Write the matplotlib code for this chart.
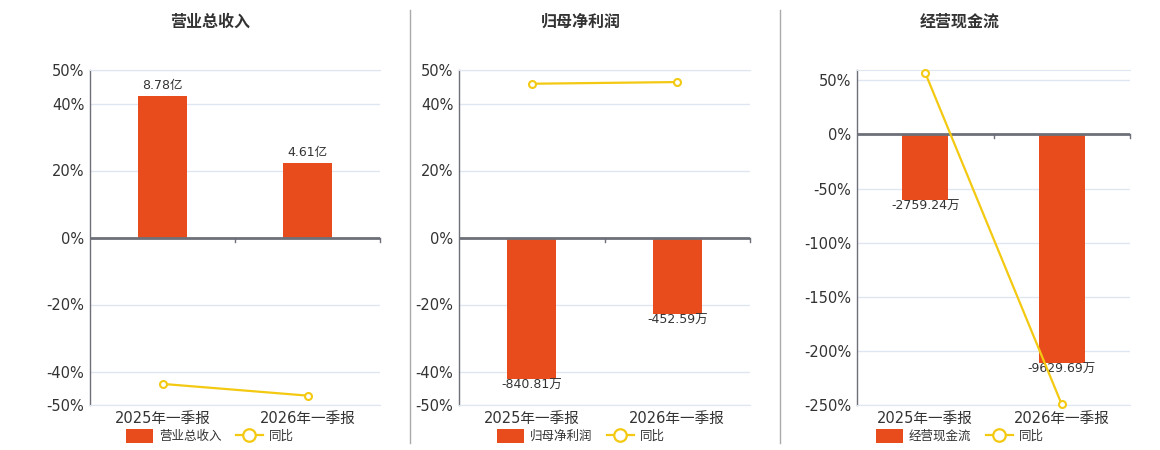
import matplotlib
matplotlib.use("Agg")
import matplotlib.pyplot as plt
from matplotlib.lines import Line2D
from matplotlib.patches import Patch
import matplotlib.transforms as mtransforms

plt.rcParams['font.family'] = ['DejaVu Sans', 'Noto Sans CJK SC']

# ---- data ----
categories = ["2025年一季报", "2026年一季报"]

titles = ["营业总收入", "归母净利润", "经营现金流"]

revenue_values = [8.78, 4.61]          # 亿
revenue_labels = ["8.78亿", "4.61亿"]
revenue_yoy = [-43.7, -47.2]           # %

profit_values = [-840.81, -452.59]     # 万
profit_labels = ["-840.81万", "-452.59万"]
profit_yoy = [45.9, 46.4]

cash_values = [-2759.24, -9629.69]     # 万
cash_labels = ["-2759.24万", "-9629.69万"]
cash_yoy = [56.8, -249.5]

yticks_list = [
    [-50, -40, -20, 0, 20, 40, 50],
    [-50, -40, -20, 0, 20, 40, 50],
    [-250, -200, -150, -100, -50, 0, 50],
]
ylims = [(-50, 50), (-50, 50), (-250, 59.5)]

# ---- style ----
BAR_C = "#E84C1D"
LINE_C = "#F3C912"
GRID_C = "#E0E6F1"
AXIS_C = "#6E7079"
TXT_C = "#333333"
W, H = 1160, 450

fig = plt.figure(figsize=(W / 100, H / 100), dpi=100)

panels = [
    (revenue_values, revenue_labels, revenue_yoy),
    (profit_values, profit_labels, profit_yoy),
    (cash_values, cash_labels, cash_yoy),
]
ax_px = [(90, 290), (459, 291), (857, 273)]
centers = [210, 581, 960]
BAR_FRAC = 0.845

for i, ((vals, labs, yoy), (lx, wx)) in enumerate(zip(panels, ax_px)):
    ax = fig.add_axes([lx / W, 45 / H, wx / W, 335 / H])
    ylo, yhi = ylims[i]
    ax.set_ylim(ylo, yhi)
    ax.set_xlim(-0.5, len(categories) - 0.5)
    ax.set_yticks(yticks_list[i])
    ax.set_yticklabels([f"{t}%" for t in yticks_list[i]])
    ax.tick_params(axis='y', length=0, labelsize=10.5, labelcolor=TXT_C, pad=4)
    ax.set_xticks(range(len(categories)))
    ax.set_xticklabels(categories)
    ax.tick_params(axis='x', length=0, labelsize=10.5, labelcolor=TXT_C, pad=4)
    for t in yticks_list[i]:
        ax.axhline(t, color=GRID_C, lw=1, zorder=0)
    ax.spines['top'].set_color(GRID_C)
    ax.spines['right'].set_visible(False)
    ax.spines['bottom'].set_color(GRID_C)
    ax.spines['left'].set_color(AXIS_C)
    ax.spines['left'].set_linewidth(1)

    # secondary axis for bars, aligned at zero
    ax2 = ax.twinx()
    maxabs = max(abs(v) for v in vals)
    ref = yhi if max(vals, key=abs) > 0 else -ylo
    k = BAR_FRAC * ref / maxabs
    ax2.set_ylim(ylo / k, yhi / k)
    ax2.set_axis_off()
    bars = ax2.bar(range(len(categories)), vals, width=0.34, color=BAR_C, zorder=2)
    for b, v, lab in zip(bars, vals, labs):
        xc = b.get_x() + b.get_width() / 2
        if v >= 0:
            ax2.annotate(lab, (xc, v), xytext=(0, 3), textcoords='offset points',
                         ha='center', va='bottom', fontsize=9, color=TXT_C)
        else:
            ax2.annotate(lab, (xc, v), xytext=(0, 0), textcoords='offset points',
                         ha='center', va='top', fontsize=9, color=TXT_C)

    # zero axis line drawn on top of bars
    ax3 = ax.twinx()
    ax3.set_ylim(ylo, yhi)
    ax3.set_axis_off()
    ax3.axhline(0, color=AXIS_C, lw=2, zorder=3)
    trans = mtransforms.blended_transform_factory(ax3.transData, ax3.transData)
    for xb in [0.5, 1.5]:
        ax3.plot([xb, xb], [0, -(yhi - ylo) * 0.012], color=AXIS_C, lw=1,
                 transform=trans, clip_on=False)
    ax3.plot(range(len(categories)), yoy, color=LINE_C, lw=1.6, marker='o', ms=5,
             mfc='white', mec=LINE_C, mew=1.5, zorder=5, clip_on=False)

    fig.text(centers[i] / W, 1 - 22 / H, titles[i], ha='center', va='center',
             fontsize=11.5, fontweight='bold', color=TXT_C)

    handles = [Patch(facecolor=BAR_C, edgecolor='none'),
               Line2D([0], [0], color=LINE_C, lw=1.6, marker='o', ms=9, mfc='white', mec=LINE_C, mew=1.6)]
    fig.legend(handles, [titles[i], "同比"], loc='center', bbox_to_anchor=(centers[i] / W, 1 - 436 / H),
               ncol=2, frameon=False, fontsize=9, handlelength=2.1, handleheight=1.3,
               columnspacing=1.2, handletextpad=0.5, labelcolor=TXT_C)

# separators
for xs in [410, 780]:
    fig.add_artist(Line2D([xs / W, xs / W], [1 - 10 / H, 1 - 443 / H], color="#AAAAAA", lw=1))

fig.savefig("out.png", dpi=100, facecolor='white')
